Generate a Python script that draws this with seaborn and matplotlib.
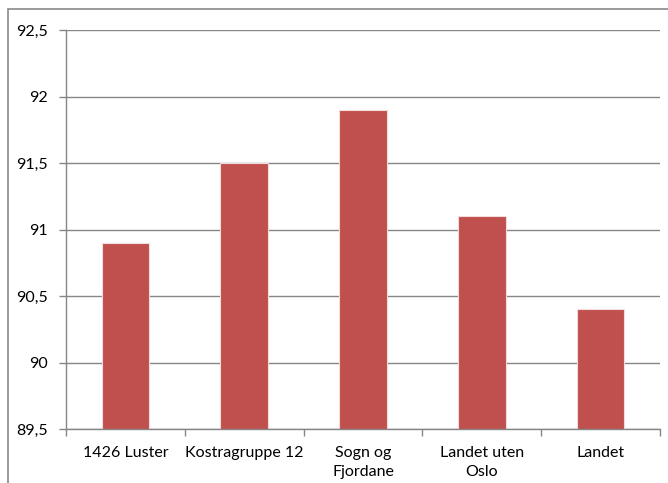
import matplotlib
matplotlib.use("Agg")
import matplotlib.pyplot as plt
import seaborn as sns
import pandas as pd
from matplotlib.patches import Rectangle
from matplotlib.ticker import FuncFormatter, MultipleLocator

categories = ["1426 Luster", "Kostragruppe 12", "Sogn og\nFjordane", "Landet uten\nOslo", "Landet"]
values = [90.9, 91.5, 91.9, 91.1, 90.4]

sns.set_style("white")
plt.rcParams["font.family"] = ["Lato", "DejaVu Sans"]

W, H = 668, 483
fig = plt.figure(figsize=(W / 100, H / 100), dpi=100)
ax = fig.add_axes([66 / W, 1 - 429 / H, (660 - 66) / W, (429 - 30) / H])

df = pd.DataFrame({"cat": categories, "val": values})
sns.barplot(data=df, x="cat", y="val", ax=ax, color="#C0504D", width=0.4,
            saturation=1, edgecolor="#F2DCDB", linewidth=0.8)

ax.set_ylim(89.5, 92.5)
ax.yaxis.set_major_locator(MultipleLocator(0.5))
ax.yaxis.set_major_formatter(FuncFormatter(lambda v, p: (f"{v:g}").replace(".", ",")))
ax.set_xlim(-0.5, len(categories) - 0.5)
ax.set_xlabel("")
ax.set_ylabel("")

grid_c = "#868686"
ax.yaxis.grid(True, color=grid_c, linewidth=1)
ax.set_axisbelow(True)
for s in ["top", "right"]:
    ax.spines[s].set_visible(False)
for s in ["left", "bottom"]:
    ax.spines[s].set_color(grid_c)
    ax.spines[s].set_linewidth(1)

ax.tick_params(axis="y", which="major", left=True, length=5, width=1, color=grid_c,
               labelsize=11.5, pad=8, labelcolor="black")
# x ticks at category boundaries
ax.set_xticks(range(len(categories)))
ax.set_xticklabels(categories, fontsize=11.5, color="black", linespacing=1.45)
ax.tick_params(axis="x", which="major", bottom=False, length=0, pad=12)
ax.set_xticks([i - 0.5 for i in range(len(categories) + 1)], minor=True)
ax.tick_params(axis="x", which="minor", bottom=True, length=5, width=1, color=grid_c)

# chart border
fig.patches.append(Rectangle((8 / W, -0.2), 1.5, (H - 9) / H + 0.2, transform=fig.transFigure,
                             fill=False, edgecolor="#898989", linewidth=1.2, clip_on=False))

fig.savefig("out.png", dpi=100)
